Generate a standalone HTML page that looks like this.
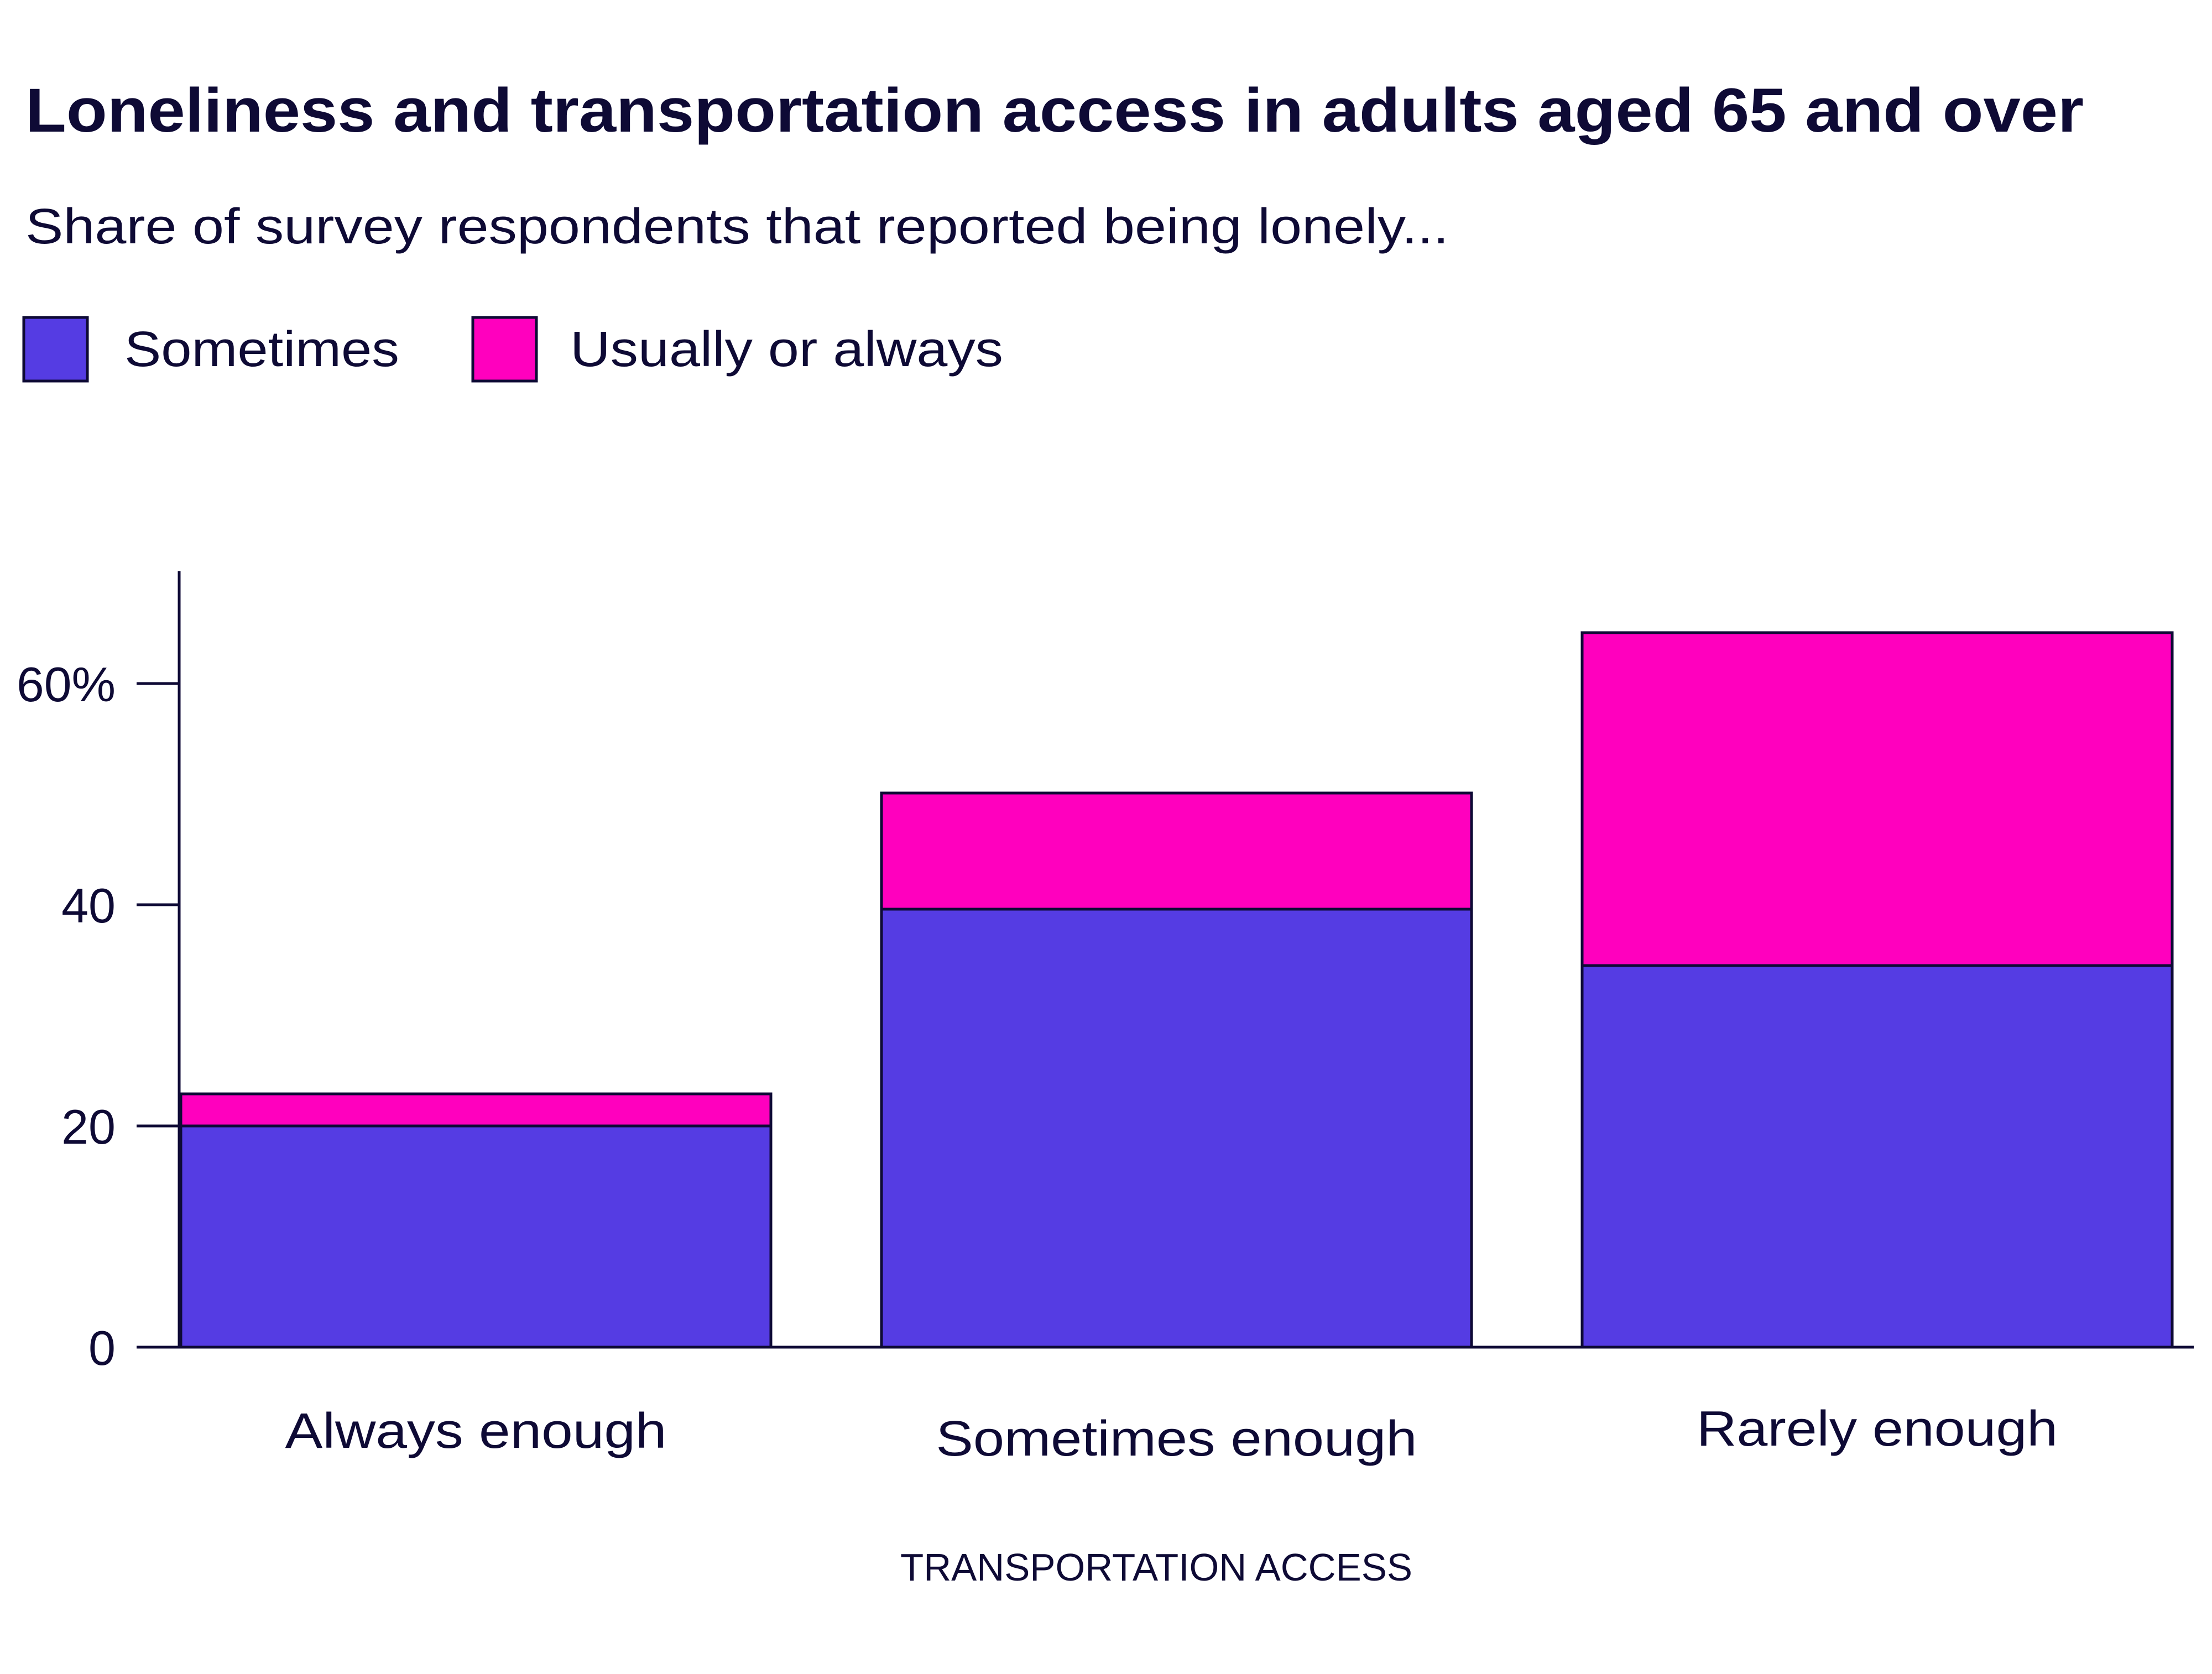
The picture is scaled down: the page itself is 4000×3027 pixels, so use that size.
<!DOCTYPE html>
<html><head><meta charset="utf-8"><style>
html,body{margin:0;padding:0;background:#fff;}
svg{display:block;font-family:"Liberation Sans",sans-serif;}
</style></head><body>
<svg id="chart" width="4000" height="3027" viewBox="0 0 4000 3027" xmlns="http://www.w3.org/2000/svg">
<rect width="4000" height="3027" fill="#fff"/>
<text x="46" y="238" font-size="112" font-weight="bold" fill="#0e0a35" textLength="3722" lengthAdjust="spacingAndGlyphs">Loneliness and transportation access in adults aged 65 and over</text>
<text x="46" y="440" font-size="90" fill="#0e0a35" textLength="2574" lengthAdjust="spacingAndGlyphs">Share of survey respondents that reported being lonely...</text>
<g>
<rect x="43" y="574" width="115" height="115" fill="#553ce3" stroke="#0e0a35" stroke-width="5"/>
<text x="225" y="662" font-size="90" fill="#0e0a35" textLength="497" lengthAdjust="spacingAndGlyphs">Sometimes</text>
<rect x="855" y="574" width="115" height="115" fill="#ff00be" stroke="#0e0a35" stroke-width="5"/>
<text x="1031" y="662" font-size="90" fill="#0e0a35" textLength="783" lengthAdjust="spacingAndGlyphs">Usually or always</text>
</g>
<g id="plot"></g>
<text x="1628" y="2858" font-size="70" fill="#0e0a35" textLength="926" lengthAdjust="spacingAndGlyphs">TRANSPORTATION ACCESS</text>
</svg>
<script>
const categories = ["Always enough", "Sometimes enough", "Rarely enough"];
const sometimes = [20, 39.6, 34.5];
const usually = [2.9, 10.5, 30.1];
const yTicks = [0, 20, 40, 60];
const yTickLabels = ["0", "20", "40", "60%"];
const labelOffsets = [0, 14, -4];
const labelWidths = [690, 870, 653];

const NS = "http://www.w3.org/2000/svg";
const plot = document.getElementById("plot");
const y0 = 2436, pxPerUnit = 20.0;
function y(v){ return y0 - v*pxPerUnit; }
const bandStart = 327, step = 1267, barW = 1067;
function x(i){ return bandStart + i*step; }
function mk(tag, attrs){ const e=document.createElementNS(NS,tag); for(const k in attrs) e.setAttribute(k,attrs[k]); plot.appendChild(e); return e; }

categories.forEach((c,i)=>{
  const b1 = mk("rect",{x:x(i),y:y(sometimes[i]),width:barW,height:y(0)-y(sometimes[i]),fill:"#553ce3",stroke:"#0e0a35","stroke-width":5});
  
  
  const tot = sometimes[i]+usually[i];
  const b2 = mk("rect",{x:x(i),y:y(tot),width:barW,height:y(sometimes[i])-y(tot),fill:"#ff00be",stroke:"#0e0a35","stroke-width":5});
  
  
  const t = mk("text",{x:x(i)+barW/2-labelWidths[i]/2,y:2618+labelOffsets[i],"font-size":90,fill:"#0e0a35",textLength:labelWidths[i],lengthAdjust:"spacingAndGlyphs"});
  t.textContent = c;
  
  
});

const ax = mk("line",{x1:324,y1:1033,x2:324,y2:y0,stroke:"#0e0a35","stroke-width":5});


const bx = mk("line",{x1:247,y1:y0,x2:3967,y2:y0,stroke:"#0e0a35","stroke-width":5});



yTicks.forEach((v,i)=>{
  const tk = mk("line",{x1:247,y1:y(v),x2:324,y2:y(v),stroke:"#0e0a35","stroke-width":5});
  
  
  const attrs = {x:209,y:y(v)+32,"font-size":88,"text-anchor":"end",fill:"#0e0a35"};
  if (yTickLabels[i].length === 3) { attrs.textLength = 179; attrs.lengthAdjust = "spacingAndGlyphs"; }
  const tl = mk("text",attrs);
  tl.textContent = yTickLabels[i];
  
  
});
</script>
</body></html>
